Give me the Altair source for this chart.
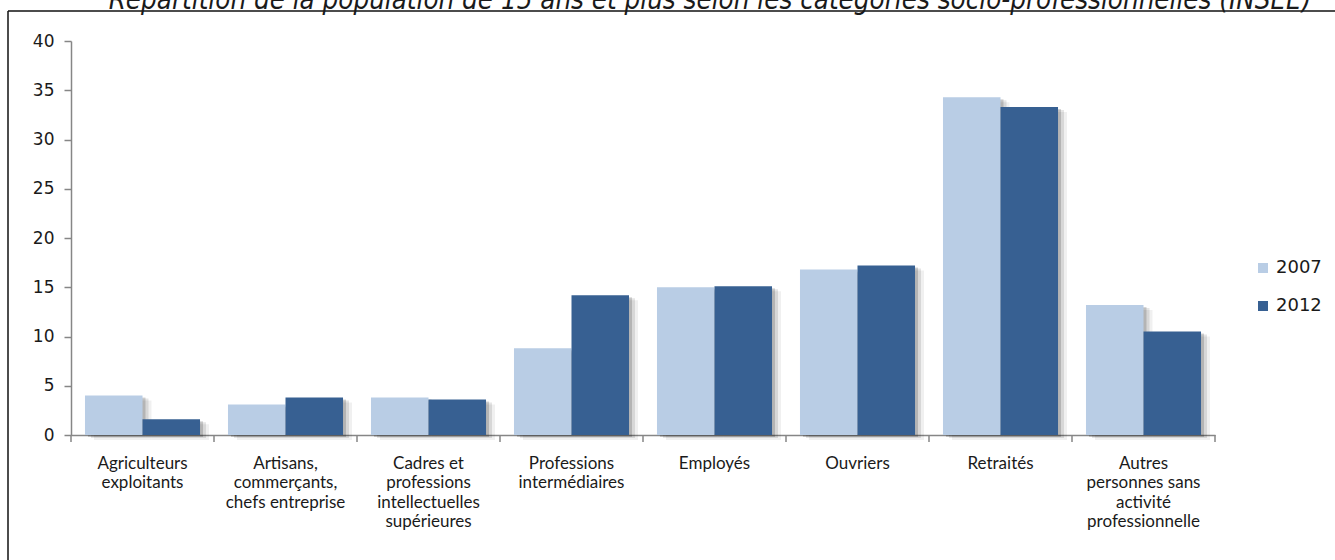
import altair as alt
import pandas as pd

categories = [
    "Agriculteurs\nexploitants",
    "Artisans,\ncommerçants,\nchefs entreprise",
    "Cadres et\nprofessions\nintellectuelles\nsupérieures",
    "Professions\nintermédiaires",
    "Employés",
    "Ouvriers",
    "Retraités",
    "Autres\npersonnes sans\nactivité\nprofessionnelle",
]
v2007 = [4.0, 3.1, 3.8, 8.8, 15.0, 16.8, 34.3, 13.2]
v2012 = [1.6, 3.8, 3.6, 14.2, 15.1, 17.2, 33.3, 10.5]
years = ["2007", "2012"]
colors = ["#B9CDE5", "#376092"]
y_ticks = [0, 5, 10, 15, 20, 25, 30, 35, 40]
title_text = "Répartition de la population de 15 ans et plus selon les catégories socio-professionnelles (INSEE)"

rows = []
for c, a, b in zip(categories, v2007, v2012):
    rows.append({"cat": c, "year": years[0], "value": a})
    rows.append({"cat": c, "year": years[1], "value": b})
df = pd.DataFrame(rows)

W, H = 1144, 394
STEP = W / len(categories)
FONT = "Lato"
NUMFONT = "DejaVu Sans"

x_enc = alt.X(
    "cat:N",
    sort=categories,
    scale=alt.Scale(paddingInner=0, paddingOuter=0),
    axis=alt.Axis(
        title=None,
        labelAngle=0,
        labelExpr="split(datum.label, '\\n')",
        labelFont=FONT,
        labelFontSize=17,
        labelColor="#1a1a1a",
        labelLineHeight=19.5,
        labelPadding=20,
        labelBaseline="top",
        ticks=False,
        tickSize=0,
        domainColor="#868686",
        domainWidth=1.5,
        grid=False,
    ),
)
xoff = alt.XOffset("year:N", sort=years, scale=alt.Scale(paddingInner=0, paddingOuter=0.243))
y_enc = alt.Y(
    "value:Q",
    scale=alt.Scale(domain=[0, 40], nice=False),
    axis=alt.Axis(
        title=None,
        values=y_ticks,
        labelFont=NUMFONT,
        labelFontSize=17,
        labelColor="#1a1a1a",
        labelPadding=10,
        tickSize=7,
        tickColor="#868686",
        tickWidth=1.5,
        domainColor="#868686",
        domainWidth=1.5,
        grid=False,
    ),
)


def shadow(dx, dy, op):
    return alt.Chart(df).mark_bar(color="#000000", opacity=op, yOffset=dy, y2Offset=dy).encode(
        x=x_enc,
        xOffset=alt.XOffset(
            "year:N",
            sort=years,
            scale=alt.Scale(paddingInner=0, paddingOuter=0.243, range=[dx, STEP + dx]),
        ),
        y=y_enc,
    )


shadows = alt.layer(
    shadow(9, 5, 0.06), shadow(6, 3, 0.10), shadow(3, 2, 0.16)
).resolve_scale(xOffset="independent")

bars = alt.Chart(df).mark_bar().encode(
    x=x_enc,
    xOffset=xoff,
    y=y_enc,
    color=alt.Color(
        "year:N",
        scale=alt.Scale(domain=years, range=colors),
        legend=alt.Legend(
            title=None,
            orient="none",
            legendX=1183,
            legendY=218,
            symbolType="square",
            symbolSize=100,
            symbolStrokeWidth=0,
            labelFont=NUMFONT,
            labelFontSize=18,
            labelColor="#1a1a1a",
            labelOffset=4,
            rowPadding=20,
        ),
    ),
)

cat_df = pd.DataFrame({"cat": categories})
ticks = alt.Chart(cat_df).mark_rule(color="#868686", strokeWidth=1.5).encode(
    x=alt.X("cat:N", sort=categories, bandPosition=0),
    y=alt.value(H),
    y2=alt.value(H + 7),
)
last_tick = alt.Chart(cat_df.head(1)).mark_rule(color="#868686", strokeWidth=1.5).encode(
    x=alt.value(W), y=alt.value(H), y2=alt.value(H + 7)
)

frame_v = alt.Chart(cat_df.head(1)).mark_rule(color="#111111", strokeWidth=1.5).encode(
    x=alt.value(-63), y=alt.value(-30), y2=alt.value(H + 140)
)
frame_h = alt.Chart(cat_df.head(1)).mark_rule(color="#111111", strokeWidth=1.5).encode(
    x=alt.value(-63), x2=alt.value(W + 140), y=alt.value(-30)
)

title = alt.Chart(pd.DataFrame({"t": [title_text]})).mark_text(
    font="'DejaVu Sans Condensed', 'Liberation Sans', sans-serif",
    fontStyle="italic",
    fontSize=27.5,
    color="#1a1a1a",
    align="center",
    baseline="alphabetic",
).encode(text="t:N", x=alt.value(639), y=alt.value(-32))

chart = alt.layer(shadows, bars, ticks, last_tick, frame_v, frame_h, title).resolve_scale(
    xOffset="independent"
).properties(
    width=W,
    height=H,
    autosize=alt.AutoSizeParams(type="none"),
    padding={"left": 71, "top": 41, "right": 120, "bottom": 125},
).configure_view(stroke=None)

chart.save("out.html", embed_options={"renderer": "svg", "actions": False})
